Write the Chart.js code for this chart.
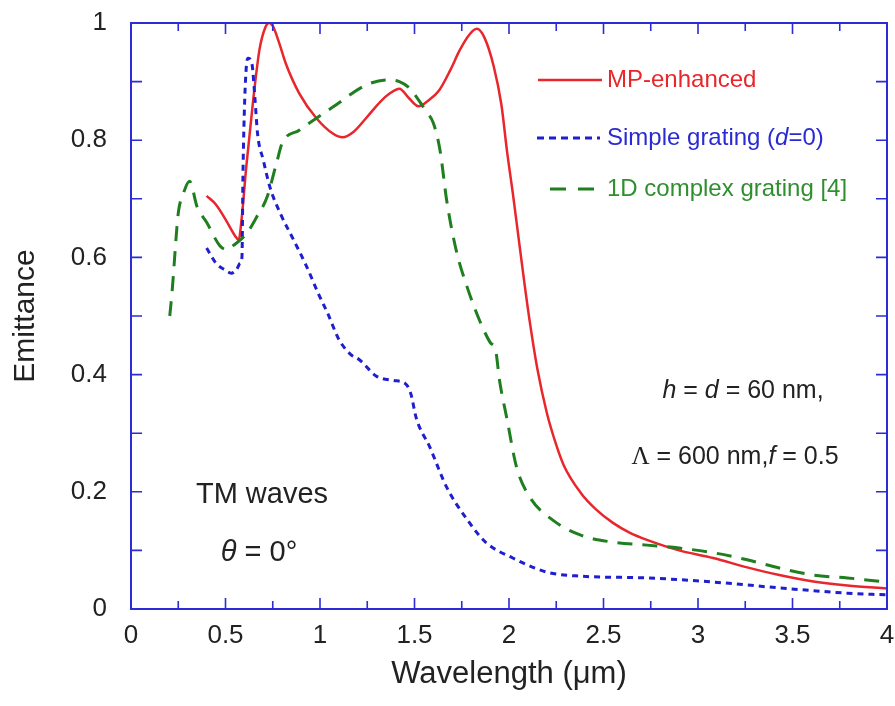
<!DOCTYPE html>
<html>
<head>
<meta charset="utf-8">
<script src="https://cdn.jsdelivr.net/npm/chart.js@4.4.1/dist/chart.umd.min.js"></script>
<style>
  html, body { margin: 0; padding: 0; background: #fff; }
  #wrap { width: 895px; height: 706px; }
</style>
</head>
<body>
<div id="wrap"><canvas id="chart" width="895" height="706"></canvas></div>
<script>
// MP-enhanced grating
const mpX = [0.40, 0.45, 0.50, 0.55, 0.57, 0.585, 0.61, 0.647, 0.68, 0.71, 0.73, 0.75, 0.78, 0.82, 0.89, 0.98, 1.07, 1.12, 1.18, 1.25, 1.32, 1.37, 1.42, 1.47, 1.52, 1.57, 1.63, 1.69, 1.74, 1.79, 1.83, 1.87, 1.92, 1.96, 1.99, 2.02, 2.05, 2.08, 2.11, 2.15, 2.20, 2.25, 2.29, 2.38, 2.46, 2.55, 2.64, 2.73, 2.90, 3.08, 3.26, 3.43, 3.61, 3.79, 4.00];
const mpY = [0.705, 0.690, 0.665, 0.637, 0.630, 0.665, 0.755, 0.870, 0.955, 0.992, 1.000, 0.995, 0.970, 0.930, 0.880, 0.838, 0.811, 0.805, 0.815, 0.840, 0.866, 0.880, 0.888, 0.872, 0.858, 0.867, 0.885, 0.920, 0.954, 0.980, 0.990, 0.975, 0.925, 0.860, 0.780, 0.710, 0.635, 0.560, 0.490, 0.410, 0.335, 0.280, 0.245, 0.198, 0.170, 0.147, 0.130, 0.118, 0.100, 0.087, 0.071, 0.058, 0.047, 0.040, 0.035];

// Simple grating (d=0)
const sgX = [0.40, 0.45, 0.50, 0.53, 0.56, 0.577, 0.587, 0.593, 0.61, 0.62, 0.64, 0.656, 0.67, 0.70, 0.735, 0.79, 0.86, 0.93, 0.99, 1.04, 1.10, 1.16, 1.21, 1.30, 1.39, 1.45, 1.48, 1.51, 1.58, 1.67, 1.78, 1.88, 2.02, 2.20, 2.38, 2.73, 3.08, 3.43, 3.79, 4.00];
const sgY = [0.616, 0.590, 0.578, 0.573, 0.580, 0.590, 0.600, 0.754, 0.925, 0.940, 0.930, 0.870, 0.810, 0.766, 0.720, 0.675, 0.630, 0.584, 0.539, 0.505, 0.460, 0.435, 0.425, 0.397, 0.390, 0.385, 0.368, 0.325, 0.277, 0.208, 0.152, 0.113, 0.087, 0.063, 0.056, 0.053, 0.046, 0.036, 0.027, 0.024];

// 1D complex grating [4]
const cgX = [0.205, 0.217, 0.25, 0.275, 0.31, 0.35, 0.40, 0.47, 0.51, 0.54, 0.61, 0.665, 0.72, 0.77, 0.80, 0.89, 1.07, 1.25, 1.36, 1.42, 1.47, 1.51, 1.56, 1.60, 1.635, 1.67, 1.72, 1.78, 1.85, 1.90, 1.93, 1.95, 1.99, 2.04, 2.11, 2.23, 2.38, 2.55, 2.73, 2.90, 3.08, 3.26, 3.43, 3.61, 3.79, 4.00];
const cgY = [0.500, 0.540, 0.675, 0.707, 0.730, 0.686, 0.660, 0.620, 0.613, 0.620, 0.640, 0.669, 0.703, 0.761, 0.795, 0.817, 0.857, 0.895, 0.903, 0.900, 0.890, 0.874, 0.850, 0.829, 0.783, 0.698, 0.613, 0.548, 0.488, 0.455, 0.440, 0.390, 0.323, 0.242, 0.191, 0.152, 0.126, 0.114, 0.109, 0.104, 0.096, 0.084, 0.070, 0.058, 0.053, 0.046];

const seriesLabels = ['MP-enhanced', 'Simple grating (d=0)', '1D complex grating [4]'];
const xTicks = [0, 0.5, 1, 1.5, 2, 2.5, 3, 3.5, 4];
const yTicks = [0, 0.2, 0.4, 0.6, 0.8, 1];

const FONT = 'Arial, "Liberation Sans", Helvetica, sans-serif';
const SERIF = '"Times New Roman", "Liberation Serif", serif';
const AXIS_BLUE = '#2b2bd8';
const RED = '#e8262b', BLUE = '#1f1fcf', GREEN = '#1f7f1f';

const toPts = (xs, ys) => xs.map((x, i) => ({ x: x, y: ys[i] }));

// draw a line of text made of [text, italic, family] pieces, centred on cx
function drawRich(ctx, parts, cx, cy, size, color) {
  let total = 0;
  const w = parts.map(p => {
    ctx.font = (p[1] ? 'italic ' : '') + size + 'px ' + (p[2] || FONT);
    const m = ctx.measureText(p[0]).width;
    total += m;
    return m;
  });
  let x = cx - total / 2;
  ctx.fillStyle = color;
  ctx.textBaseline = 'middle';
  ctx.textAlign = 'left';
  parts.forEach((p, i) => {
    ctx.font = (p[1] ? 'italic ' : '') + size + 'px ' + (p[2] || FONT);
    ctx.fillText(p[0], x, cy);
    x += w[i];
  });
}

// box around the plot + inward tick marks on all four sides
const frame = {
  id: 'frame',
  afterDatasetsDraw(chart) {
    const { ctx, chartArea: a, scales } = chart;
    const xs = scales.x, ys = scales.y;
    ctx.save();
    ctx.strokeStyle = AXIS_BLUE;
    ctx.lineWidth = 2;
    ctx.strokeRect(a.left, a.top, a.right - a.left, a.bottom - a.top);
    ctx.lineWidth = 1.6;
    ctx.beginPath();
    for (let v = 0.25; v < 4; v += 0.25) {
      const px = xs.getPixelForValue(v);
      const len = (Math.round(v * 4) % 2 === 0) ? 11 : 8;
      ctx.moveTo(px, a.bottom); ctx.lineTo(px, a.bottom - len);
      ctx.moveTo(px, a.top); ctx.lineTo(px, a.top + len);
    }
    for (let v = 0.1; v < 0.99; v += 0.1) {
      const py = ys.getPixelForValue(v);
      ctx.moveTo(a.left, py); ctx.lineTo(a.left + 11, py);
      ctx.moveTo(a.right, py); ctx.lineTo(a.right - 11, py);
    }
    ctx.stroke();
    ctx.restore();
  }
};

// legend and annotations
const notes = {
  id: 'notes',
  afterDraw(chart) {
    const { ctx } = chart;
    ctx.save();
    // legend
    const rows = [
      { y: 80, x0: 538, x1: 602, color: RED, dash: [], lw: 2.5, text: [[seriesLabels[0], false]], tc: RED },
      { y: 138, x0: 537, x1: 600, color: BLUE, dash: [7, 5], lw: 3, text: [['Simple grating (', false], ['d', true], ['=0)', false]], tc: '#2a2ad4' },
      { y: 189, x0: 550, x1: 600, color: GREEN, dash: [16, 12], lw: 3, text: [['1D complex grating [4]', false]], tc: '#2f8f2f' }
    ];
    rows.forEach(r => {
      ctx.strokeStyle = r.color;
      ctx.lineWidth = r.lw;
      ctx.setLineDash(r.dash);
      ctx.beginPath();
      ctx.moveTo(r.x0, r.y); ctx.lineTo(r.x1, r.y);
      ctx.stroke();
      ctx.setLineDash([]);
      let x = 607;
      ctx.fillStyle = r.tc;
      ctx.textBaseline = 'middle';
      ctx.textAlign = 'left';
      r.text.forEach(p => {
        ctx.font = (p[1] ? 'italic ' : '') + '24px ' + FONT;
        ctx.fillText(p[0], x, r.y);
        x += ctx.measureText(p[0]).width;
      });
    });
    // annotations
    drawRich(ctx, [['TM waves', false]], 262, 495, 29, '#222');
    drawRich(ctx, [['θ', true], [' = 0°', false]], 259, 553, 29, '#222');
    drawRich(ctx, [['h', true], [' = ', false], ['d', true], [' = 60 nm,', false]], 743, 391, 25, '#222');
    drawRich(ctx, [['Λ', false, SERIF], [' = 600 nm,', false], ['f', true], [' = 0.5', false]], 735, 457, 25, '#222');
    ctx.restore();
  }
};

new Chart(document.getElementById('chart').getContext('2d'), {
  type: 'line',
  data: {
    datasets: [
      { label: seriesLabels[0], data: toPts(mpX, mpY), borderColor: RED, borderWidth: 2.5, order: 3 },
      { label: seriesLabels[1], data: toPts(sgX, sgY), borderColor: BLUE, borderWidth: 3, borderDash: [6, 5], order: 2 },
      { label: seriesLabels[2], data: toPts(cgX, cgY), borderColor: GREEN, borderWidth: 3, borderDash: [15, 10], order: 1 }
    ]
  },
  options: {
    responsive: false,
    animation: false,
    elements: {
      point: { radius: 0, hoverRadius: 0 },
      line: { cubicInterpolationMode: 'monotone', fill: false }
    },
    layout: { padding: { top: 23, right: 8, left: 0, bottom: 0 } },
    plugins: { legend: { display: false }, tooltip: { enabled: false } },
    scales: {
      x: {
        type: 'linear', min: 0, max: 4,
        grid: { display: false, drawTicks: false },
        border: { display: false },
        afterBuildTicks: s => { s.ticks = xTicks.map(v => ({ value: v })); },
        afterFit: s => { s.height = 97; s.paddingLeft = 0; s.paddingRight = 0; },
        ticks: { padding: 11, color: '#222', font: { family: FONT, size: 26 }, maxRotation: 0, callback: v => String(v) },
        title: { display: true, text: 'Wavelength (μm)', color: '#222', font: { family: FONT, size: 31 }, padding: { top: 13, bottom: 13 } }
      },
      y: {
        type: 'linear', min: 0, max: 1,
        grid: { display: false, drawTicks: false },
        border: { display: false },
        afterBuildTicks: s => { s.ticks = yTicks.map(v => ({ value: v })); },
        afterFit: s => { s.width = 131; s.paddingTop = 0; s.paddingBottom = 0; },
        ticks: { padding: 24, color: '#222', font: { family: FONT, size: 26 }, callback: v => String(v) },
        title: { display: true, text: 'Emittance', color: '#222', font: { family: FONT, size: 30 }, padding: { top: 8, bottom: 8 } }
      }
    }
  },
  plugins: [frame, notes]
});
</script>
</body>
</html>
